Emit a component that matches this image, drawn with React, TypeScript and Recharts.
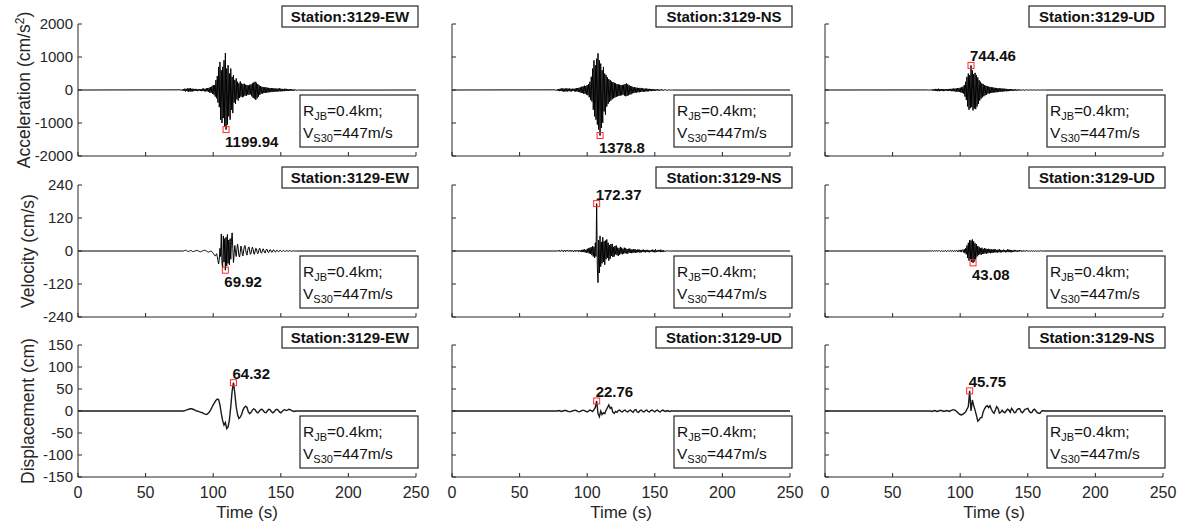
import React from 'react';
import { LineChart, Line, XAxis, YAxis, ReferenceDot } from 'recharts';

const ACC_T0 = 76;
const ACC_DT = 0.5;
const VEL_T0 = 78;
const VEL_DT = 0.5;
const DISP_T0 = 78;
const DISP_DT = 1;
const RECORD_END = 250;

const timeTicks = [0, 50, 100, 150, 200, 250];
const accTicks = [-2000, -1000, 0, 1000, 2000];
const velTicks = [-240, -120, 0, 120, 240];
const dispTicks = [-150, -100, -50, 0, 50, 100, 150];

const stationTitles = [
  ['Station:3129-EW', 'Station:3129-NS', 'Station:3129-UD'],
  ['Station:3129-EW', 'Station:3129-NS', 'Station:3129-UD'],
  ['Station:3129-EW', 'Station:3129-UD', 'Station:3129-NS'],
];

// acceleration, cm/s^2
const accEW = [
  5, -10, 15, -20, 30, -25, 40, -45, 35, -30,
  50, -55, 45, -40, 60, -50, 35, -45, 40, -35,
  30, -25, 35, -30, 25, -35, 30, -20, 25, -30,
  30, -35, 40, -30, 45, -40, 35, -45, 50, -40,
  60, -55, 70, -80, 90, -85, 110, -120, 150, -140,
  150, -200, 300, -250, 420, -380, 700, -520, 850, -900,
  600, -1000, 700, -850, 900, -1100, 1120, -1199.94, 650, -1050,
  750, -800, 500, -900, 650, -600, 400, -700, 450, -380,
  300, -420, 350, -280, 250, -320, 200, -240, 260, -200,
  200, -220, 180, -200, 190, -170, 160, -180, 150, -140,
  140, -150, 160, -130, 170, -190, 200, -240, 230, -260,
  250, -300, 220, -250, 180, -200, 140, -150, 120, -110,
  100, -110, 90, -95, 80, -90, 85, -80, 70, -75,
  65, -70, 60, -55, 60, -65, 55, -50, 50, -55,
  45, -50, 40, -45, 45, -40, 50, -45, 40, -35,
  35, -40, 30, -35, 40, -30, 35, -30, 25, -30,
  25, -20, 30, -25, 20, -25, 15, -20, 20, -15,
  10, -12, 8, -6, 5, -3,
];

const accNS = [
  5, -8, 12, -15, 20, -25, 30, -35, 40, -30,
  45, -40, 50, -45, 40, -50, 45, -40, 50, -45,
  40, -35, 45, -40, 35, -45, 40, -30, 35, -40,
  45, -50, 55, -45, 60, -55, 70, -65, 80, -90,
  100, -90, 110, -120, 130, -110, 120, -140, 150, -160,
  180, -220, 250, -300, 400, -350, 650, -600, 900, -800,
  750, -900, 950, -1050, 1110, -1200, 900, -1378.8, 800, -1150,
  600, -1000, 700, -650, 500, -750, 450, -500, 380, -420,
  330, -360, 300, -320, 260, -280, 240, -250, 220, -230,
  200, -210, 180, -190, 170, -180, 160, -170, 150, -160,
  150, -140, 160, -170, 180, -190, 200, -180, 170, -160,
  150, -140, 120, -130, 110, -100, 90, -95, 85, -80,
  75, -80, 70, -65, 60, -70, 65, -60, 55, -50,
  50, -55, 45, -50, 40, -45, 45, -40, 35, -40,
  35, -30, 30, -35, 30, -25, 25, -30, 20, -25,
  20, -15, 25, -20, 15, -20, 15, -10, 20, -15,
  10, -15, 12, -8, 10, -12, 8, -6, 5, -8,
  5, -4, 3, -2, 2, -1,
];

const accUD = [
  2, -3, 4, -5, 8, -10, 15, -20, 25, -20,
  25, -30, 35, -30, 30, -35, 40, -35, 30, -30,
  30, -25, 30, -35, 25, -30, 25, -20, 25, -30,
  30, -25, 35, -30, 30, -35, 40, -35, 45, -40,
  40, -45, 50, -55, 60, -50, 55, -60, 70, -75,
  80, -90, 100, -110, 150, -200, 250, -300, 400, -500,
  500, -600, 450, -550, 744.46, -520, 600, -620, 480, -560,
  520, -580, 450, -500, 380, -420, 300, -320, 250, -260,
  200, -220, 180, -190, 150, -160, 130, -140, 120, -110,
  100, -110, 95, -90, 85, -90, 80, -75, 70, -75,
  65, -70, 60, -65, 55, -60, 50, -55, 50, -45,
  45, -50, 40, -45, 40, -35, 35, -40, 30, -35,
  30, -25, 30, -30, 25, -25, 20, -25, 20, -20,
  20, -15, 15, -20, 15, -15, 12, -15, 10, -12,
  10, -10, 12, -10, 8, -10, 8, -6, 8, -6,
  6, -5, 5, -6, 5, -4, 4, -5, 4, -3,
  3, -4, 3, -2, 2, -3, 2, -2, 2, -1,
  1, -1, 1, -1, 0, 0,
];

// velocity, cm/s
const velEW = [
  0, 1, 2, 3, 2, 1, -1, -2, -1, 0,
  1, 2, 1, -1, -2, -2, -1, 0, 1, 2,
  2, 1, 0, -1, -2, -3, -2, -1, 0, 1,
  2, 3, 2, 1, 0, -2, -3, -4, -3, -2,
  -1, 0, -2, -5, -8, -12, -16, -18, -15, -10,
  -20, -35, -47, -30, 10, -20, 62, -45, -61, 55,
  -40, 45, -69.92, 50, -55, 60, -45, 40, -50, 45,
  -30, 35, 66, 10, -42, -10, 20, -5, -20, 5,
  25, 10, -15, -22, -5, 18, 10, -12, -18, 0,
  15, 20, 5, -10, -15, 2, 12, 15, 0, -12,
  -8, 5, 14, 6, -8, -12, 0, 10, 8, -5,
  -10, -4, 8, 10, 0, -8, -6, 4, 8, 2,
  -6, -7, 2, 7, 4, -4, -6, 0, 5, 4,
  -3, -5, 0, 4, 3, -2, -4, 0, 3, 2,
  -2, -3, 1, 3, 1, -2, -2, 1, 2, 0,
  -2, -1, 1, 2, 0, -1, -1, 1, 1, 0,
  -1, 0, 1, 0, 0, 0, 0, 0,
];

const velNS = [
  0, 2, -1, 3, -2, 1, 3, -1, 2, -3,
  1, 3, -2, 2, -1, 3, 0, -2, 2, -1,
  3, -2, 1, 2, -3, 1, 3, -2, 2, -1,
  2, -3, 3, -1, 2, -4, 4, -3, 5, -4,
  6, -5, 4, -7, 8, -6, 10, -9, 12, -10,
  14, -15, 18, -20, 15, -25, 30, -20, 172.37, -60,
  -115, 40, -80, 55, -57, 33, -45, 50, -40, 35,
  -50, 38, -30, 42, -25, 30, -35, 22, -28, 25,
  -18, 26, -22, 15, -20, 18, -12, 20, -15, 12,
  -18, 10, -14, 15, -10, 12, -12, 8, -10, 12,
  -8, 10, -9, 7, -10, 8, -6, 9, -7, 6,
  -8, 5, -6, 7, -5, 6, -7, 4, -5, 6,
  -4, 5, -6, 3, -5, 4, -3, 5, -4, 3,
  -5, 4, -3, 4, -4, 3, -5, 2, -3, 4,
  -3, 5, -4, 3, -5, 6, -4, 2, -3, 4,
  -2, 3, -4, 5, -3, 2, -4, 3, -2, 1,
  -2, 1, -1, 1, 0, 0, 0, 0,
];

const velUD = [
  0, 1, -1, 1, 0, -1, 1, 0, -1, 1,
  0, -1, 1, 2, -1, -2, 1, 1, -1, 0,
  1, -1, 2, -1, -2, 1, 2, -1, -1, 1,
  2, -2, 1, 2, -2, -1, 2, -2, 1, 3,
  -2, -3, 3, 2, -3, 4, -4, 3, 5, -5,
  6, -8, 10, -12, 20, -25, 30, -35, 40, -30,
  38, -40, 42, -43.08, 35, -38, 28, -30, 25, -20,
  18, -15, 15, -12, 10, -14, 12, -10, 8, -11,
  10, -8, 9, -10, 7, -8, 8, -6, 7, -8,
  6, -7, 5, -6, 7, -5, 6, -5, 4, -6,
  5, -4, 6, -5, 4, -5, 3, -4, 5, -3,
  4, -5, 3, -4, 6, -4, 5, -3, 4, -5,
  3, -4, 2, -3, 4, -2, 3, -2, 2, -3,
  2, -2, 3, -1, 2, -2, 1, -2, 2, -1,
  1, -1, 2, -1, 1, -1, 1, 0, -1, 1,
  0, -1, 1, 0, -1, 1, 0, -1, 0, 1,
  0, -1, 0, 1, 0, 0, 0, 0,
];

// displacement, cm
const dispEW = [
  0, 1, 2, 3, 4, 5, 5, 4, 3, 1,
  0, -1, -2, -3, -4, -6, -7, -8, -6, -3,
  2, 8, 14, 19, 24, 27, 26, 14, -6, -22,
  -32, -26, -40, -36, -20, 10, 45, 64.32, 40, 10,
  -8, -17, -14, -8, 2, 8, 11, 8, -2, -6,
  -3, 2, 5, 3, -2, -4, -1, 3, 4, 1,
  -3, -4, 0, 4, 3, -1, -4, -2, 2, 4,
  2, -2, -4, -1, 2, 3, 1, 2, 4, 3,
  1, 0, -1, 0, 0, 0, 0, 0,
];

const dispUD = [
  0, 1, 0, -1, 0, 1, 1, 0, -1, -2,
  -1, 0, 1, 2, 1, -1, -2, -1, 1, 2,
  1, -1, -2, 0, 2, 1, -1, 3, 8, 22.76,
  -6, -13, 0, -8, -4, -6, 2, 8, 14, 6,
  8, -3, -5, -1, -3, 1, 2, -1, -2, 1,
  2, -1, -2, 1, 2, -1, -3, 2, 3, -2,
  -3, 1, 2, -1, -2, 1, 2, -1, -2, 1,
  2, 0, -2, 1, 2, -1, -2, 1, 2, 0,
  -1, 1, 0, -1, 0, 0, 0, 0,
];

const dispNS = [
  0, -1, 0, 1, 0, -1, 0, 1, 1, 0,
  -1, 0, 1, 0, -1, 1, 2, 3, 2, 0,
  -3, -6, -8, -9, -7, -5, -2, 4, 10, 45.75,
  0, 25, 12, 2, -10, -23, -20, -15, -15, -2,
  5, 10, 12, 8, 12, 4, -2, -5, 2, 10,
  6, -5, -3, 2, -2, -4, 0, 4, 2, -3,
  6, 2, -4, -3, 3, 5, 5, -2, -4, 0,
  4, 5, 6, 0, -4, -3, 2, 4, 0, -4,
  -5, -5, -1, 1, 0, 0, 0, 0,
];

const rows = [
  { label: 'Acceleration (cm/s', sup: '2', domain: [-2000, 2000], ticks: accTicks, t0: ACC_T0, dt: ACC_DT, labelX: 30, width: 1, color: '#000' },
  { label: 'Velocity (cm/s)', sup: '', domain: [-240, 240], ticks: velTicks, t0: VEL_T0, dt: VEL_DT, labelX: 34, width: 1, color: '#000' },
  { label: 'Displacement (cm)', sup: '', domain: [-150, 150], ticks: dispTicks, t0: DISP_T0, dt: DISP_DT, labelX: 34, width: 1.4, color: '#1a1a1a' },
];

const traces = [
  [accEW, accNS, accUD],
  [velEW, velNS, velUD],
  [dispEW, dispUD, dispNS],
];

const COL_LEFT = [78, 452, 825];
const ROW_TOP = [24, 185, 345];
const PLOT_W = 338;
const PLOT_H = 132;
const PAD_L = 60;
const PAD_T = 10;
const PAD_R = 30;
const PAD_B = 40;
const Y_W = 50;
const X_H = 30;
const TICK_LEN = 4;
const AXIS = '#262626';
const FONT = '"Liberation Sans", Arial, sans-serif';

function toSeries(samples: number[], t0: number, dt: number) {
  const pts = [{ t: 0, v: 0 }];
  samples.forEach((v, i) => pts.push({ t: t0 + i * dt, v }));
  pts.push({ t: RECORD_END, v: 0 });
  return pts;
}

function peakOf(pts: { t: number; v: number }[]) {
  return pts.reduce((best, p) => (Math.abs(p.v) > Math.abs(best.v) ? p : best), pts[0]);
}

function YTick(props: any) {
  const { x, y, payload, showLabel } = props;
  return (
    <g>
      <line x1={x} y1={y} x2={x + TICK_LEN} y2={y} stroke={AXIS} strokeWidth={1} />
      {showLabel && (
        <text x={x - 5} y={y} dy="0.36em" textAnchor="end" fontSize={15} fontFamily={FONT} fill={AXIS}>
          {payload.value}
        </text>
      )}
    </g>
  );
}

function XTick(props: any) {
  const { x, y, payload, showLabel } = props;
  return (
    <g>
      <line x1={x} y1={y} x2={x} y2={y - TICK_LEN} stroke={AXIS} strokeWidth={1} />
      {showLabel && (
        <text x={x} y={y + 21} textAnchor="middle" fontSize={16} fontFamily={FONT} fill={AXIS}>
          {payload.value}
        </text>
      )}
    </g>
  );
}

function PeakMark({ cx, cy, value }: { cx: number; cy: number; value: number }) {
  const up = value > 0;
  return (
    <g>
      <rect x={cx - 3} y={cy - 3} width={6} height={6} fill="none" stroke="#ff2a2a" strokeWidth={1} />
      <text
        x={cx - 1}
        y={up ? cy - 4 : cy + 17}
        fontSize={15}
        fontWeight="bold"
        fontFamily={FONT}
        fill="#111"
      >
        {Math.abs(value)}
      </text>
    </g>
  );
}

function Panel({ row, col }: { row: number; col: number }) {
  const r = rows[row];
  const data = toSeries(traces[row][col], r.t0, r.dt);
  const peak = peakOf(data);
  return (
    <div style={{ position: 'absolute', left: COL_LEFT[col] - PAD_L, top: ROW_TOP[row] - PAD_T }}>
      <LineChart
        width={PLOT_W + PAD_L + PAD_R}
        height={PLOT_H + PAD_T + PAD_B}
        data={data}
        margin={{ top: PAD_T, right: PAD_R, left: PAD_L - Y_W, bottom: PAD_B - X_H }}
      >
        <XAxis
          dataKey="t"
          type="number"
          domain={[0, RECORD_END]}
          ticks={timeTicks}
          interval={0}
          height={X_H}
          tickSize={0}
          tickMargin={0}
          tickLine={false}
          axisLine={{ stroke: AXIS, strokeWidth: 1 }}
          tick={<XTick showLabel={row === 2} />}
        />
        <YAxis
          type="number"
          domain={r.domain}
          ticks={r.ticks}
          interval={0}
          width={Y_W}
          allowDataOverflow
          tickSize={0}
          tickMargin={0}
          tickLine={false}
          axisLine={{ stroke: AXIS, strokeWidth: 1 }}
          tick={<YTick showLabel={col === 0} />}
        />
        <Line
          type="linear"
          dataKey="v"
          stroke={r.color}
          strokeWidth={r.width}
          dot={false}
          activeDot={false}
          isAnimationActive={false}
        />
        <ReferenceDot
          x={peak.t}
          y={peak.v}
          r={3}
          ifOverflow="visible"
          shape={(p: any) => <PeakMark cx={p.cx} cy={p.cy} value={peak.v} />}
        />
      </LineChart>
    </div>
  );
}

function Annotations() {
  return (
    <svg
      width={1182}
      height={524}
      style={{ position: 'absolute', left: 0, top: 0, pointerEvents: 'none' }}
      fontFamily={FONT}
    >
      {rows.map((r, row) => {
        const cy = ROW_TOP[row] + PLOT_H / 2;
        return (
          <text
            key={'yl' + row}
            x={r.labelX}
            y={cy}
            transform={`rotate(-90, ${r.labelX}, ${cy})`}
            textAnchor="middle"
            fontSize={17.5}
            fill={AXIS}
          >
            {r.label}
            {r.sup && (
              <>
                <tspan dy={-6} fontSize={12}>{r.sup}</tspan>
                <tspan dy={6}>)</tspan>
              </>
            )}
          </text>
        );
      })}
      {COL_LEFT.map((left, col) => (
        <text
          key={'xl' + col}
          x={left + PLOT_W / 2}
          y={ROW_TOP[2] + PLOT_H + 41}
          textAnchor="middle"
          fontSize={17}
          fill={AXIS}
        >
          Time (s)
        </text>
      ))}
      {ROW_TOP.map((top, row) =>
        COL_LEFT.map((left, col) => {
          const right = left + PLOT_W;
          const bx = right - 116;
          const by = top + 71;
          return (
            <g key={`box${row}-${col}`}>
              <rect x={right - 134} y={top - 18} width={136} height={21} fill="#fff" stroke={AXIS} strokeWidth={1.2} />
              <text x={right - 66} y={top - 2} textAnchor="middle" fontSize={15} fontWeight="bold" fill="#111">
                {stationTitles[row][col]}
              </text>
              <rect x={bx} y={by} width={118} height={52} fill="#fff" stroke={AXIS} strokeWidth={1.2} />
              <text x={bx + 3} y={by + 21} fontSize={15.5} fill="#111">
                R<tspan dy={4} fontSize={11}>JB</tspan>
                <tspan dy={-4}>=0.4km;</tspan>
              </text>
              <text x={bx + 3} y={by + 43} fontSize={15.5} fill="#111">
                V<tspan dy={4} fontSize={11}>S30</tspan>
                <tspan dy={-4}>=447m/s</tspan>
              </text>
            </g>
          );
        })
      )}
    </svg>
  );
}

export default function App() {
  return (
    <div style={{ position: 'absolute', left: 0, top: 0, width: 1182, height: 524, background: '#fff', overflow: 'hidden' }}>
      {[0, 1, 2].map((row) => [0, 1, 2].map((col) => <Panel key={`${row}-${col}`} row={row} col={col} />))}
      <Annotations />
    </div>
  );
}
